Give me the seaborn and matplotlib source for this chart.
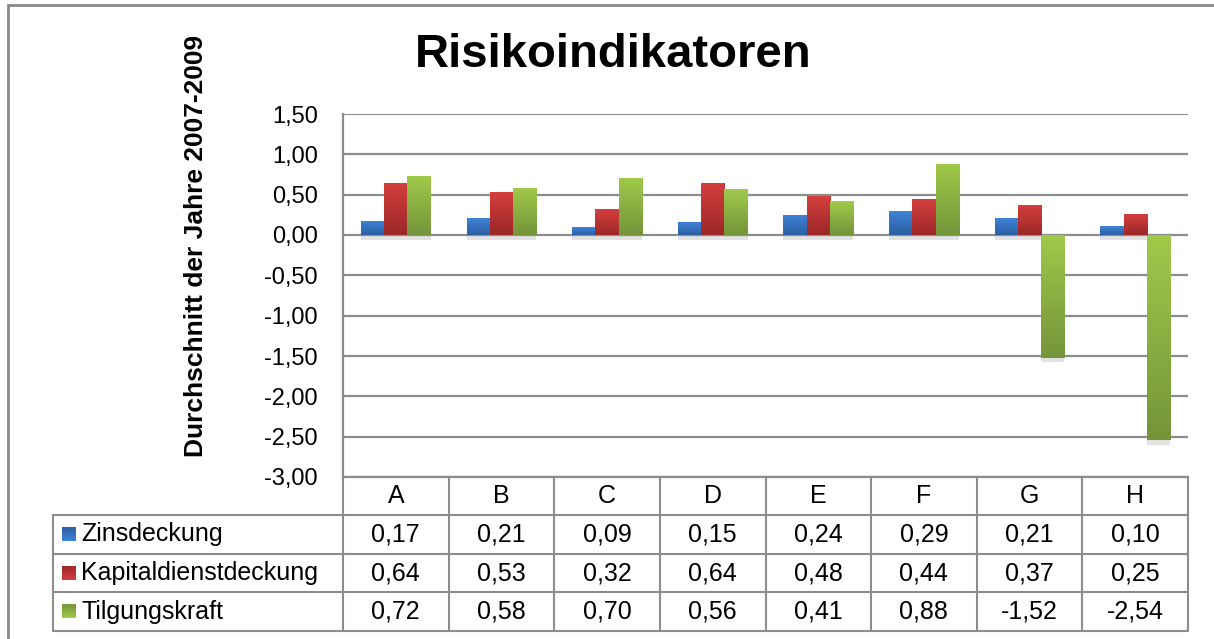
import numpy as np
import pandas as pd
import matplotlib.pyplot as plt
import matplotlib.patheffects as pe
from matplotlib.colors import LinearSegmentedColormap
import seaborn as sns

categories = ["A", "B", "C", "D", "E", "F", "G", "H"]
series = ["Zinsdeckung", "Kapitaldienstdeckung", "Tilgungskraft"]
zinsdeckung = [0.17, 0.21, 0.09, 0.15, 0.24, 0.29, 0.21, 0.10]
kapitaldienstdeckung = [0.64, 0.53, 0.32, 0.64, 0.48, 0.44, 0.37, 0.25]
tilgungskraft = [0.72, 0.58, 0.70, 0.56, 0.41, 0.88, -1.52, -2.54]
y_ticks = [1.5, 1.0, 0.5, 0.0, -0.5, -1.0, -1.5, -2.0, -2.5, -3.0]
y_tick_labels = ["1,50", "1,00", "0,50", "0,00", "-0,50", "-1,00", "-1,50", "-2,00", "-2,50", "-3,00"]

colors = ["#3a78c8", "#c83a3a", "#92bc44"]
gradients = [("#3f82d6", "#2d5fa3"), ("#d43e3e", "#9c2828"), ("#a0c94a", "#74953a")]

values = [zinsdeckung, kapitaldienstdeckung, tilgungskraft]
df = pd.DataFrame({
    "Kategorie": categories * 3,
    "Serie": [s for s in series for _ in categories],
    "Wert": [v for vals in values for v in vals],
})

sns.set_theme(style="white")
plt.rcParams["font.family"] = ["Liberation Sans", "DejaVu Sans"]
plt.rcParams["text.color"] = "black"
plt.rcParams["ytick.color"] = "black"

W, H = 1214, 639
fig = plt.figure(figsize=(W / 100, H / 100), dpi=100)
fig.patch.set_facecolor("white")

left, right, top, bottom = 343, 1188, 114, 477
ax = fig.add_axes([left / W, 1 - bottom / H, (right - left) / W, (bottom - top) / H])

sns.barplot(data=df, x="Kategorie", y="Wert", hue="Serie", palette=colors,
            width=0.66, saturation=1, legend=False, ax=ax, zorder=3)

# gradient fill + soft shadow like the Excel original
grad = np.linspace(0, 1, 64).reshape(-1, 1)
for cont, (c_top, c_bot) in zip(ax.containers, gradients):
    cmap = LinearSegmentedColormap.from_list("g", [c_top, c_bot])
    for p in cont:
        x0, w = p.get_x(), p.get_width()
        y0, h = p.get_y(), p.get_height()
        ylo, yhi = min(y0, y0 + h), max(y0, y0 + h)
        p.set_edgecolor("none")
        p.set_path_effects([pe.SimplePatchShadow(offset=(0, -3.5), shadow_rgbFace="#999999", alpha=0.28),
                            pe.Normal()])
        ax.imshow(grad, extent=[x0, x0 + w, ylo, yhi], aspect="auto", cmap=cmap,
                  origin="upper", zorder=4, interpolation="bilinear")

ax.set_xlim(-0.5, len(categories) - 0.5)
ax.set_ylim(-3.0, 1.5)
ax.set_yticks(y_ticks)
ax.set_yticklabels(y_tick_labels, fontsize=17)
ax.set_xticks(range(len(categories)))
ax.set_xticklabels([])
ax.set_xlabel("")
ax.tick_params(axis="both", length=0, pad=18)
ax.yaxis.grid(True, color="#8c8c8c", linewidth=1.6, zorder=1)
ax.set_axisbelow(True)
for s in ["top", "right"]:
    ax.spines[s].set_visible(False)
for s in ["left", "bottom"]:
    ax.spines[s].set_color("#8c8c8c")
    ax.spines[s].set_linewidth(1.6)

ax.set_ylabel("Durchschnitt der Jahre 2007-2009", fontsize=19, fontweight="bold", color="black")
ax.yaxis.set_label_coords((208 - left) / (right - left), (bottom - 246) / (bottom - top))

fig.text(613 / W, 1 - 55 / H, "Risikoindikatoren", fontsize=34, fontweight="bold",
         ha="center", va="center")

# overlay in pixel coordinates: outer frame and data table
ov = fig.add_axes([0, 0, 1, 1], facecolor="none")
ov.set_xlim(0, W)
ov.set_ylim(H, 0)
ov.axis("off")

frame_c = "#8a8a8a"
ov.plot([8, W], [5, 5], color=frame_c, lw=2)
ov.plot([8, 8], [5, H], color=frame_c, lw=2)

line_c = "#8c8c8c"
col_w = (right - left) / len(categories)
row_y = [477, 515, 554, 592, 631]
tab_left = 53
for k in range(len(categories) + 1):
    ov.plot([left + k * col_w] * 2, [row_y[0], row_y[-1]], color=line_c, lw=1.5)
ov.plot([tab_left, tab_left], [row_y[1], row_y[-1]], color=line_c, lw=1.5)
for y in row_y[1:]:
    ov.plot([tab_left, right], [y, y], color=line_c, lw=1.5)

fs = 18
for k, cat in enumerate(categories):
    ov.text(left + (k + 0.5) * col_w, (row_y[0] + row_y[1]) / 2, cat,
            ha="center", va="center", fontsize=fs)

for r, (name, vals, (c_top, c_bot)) in enumerate(zip(series, values, gradients)):
    yc = (row_y[r + 1] + row_y[r + 2]) / 2
    cmap = LinearSegmentedColormap.from_list("g", [c_top, c_bot])
    ov.imshow(grad, extent=[62, 76, yc + 7, yc - 7], aspect="auto", cmap=cmap, origin="lower")
    ov.text(81, yc, name, ha="left", va="center", fontsize=fs)
    for k, v in enumerate(vals):
        ov.text(left + (k + 0.5) * col_w, yc, f"{v:.2f}".replace(".", ","),
                ha="center", va="center", fontsize=fs)
ov.set_xlim(0, W)
ov.set_ylim(H, 0)

fig.savefig("out.png", dpi=100, facecolor="white")
